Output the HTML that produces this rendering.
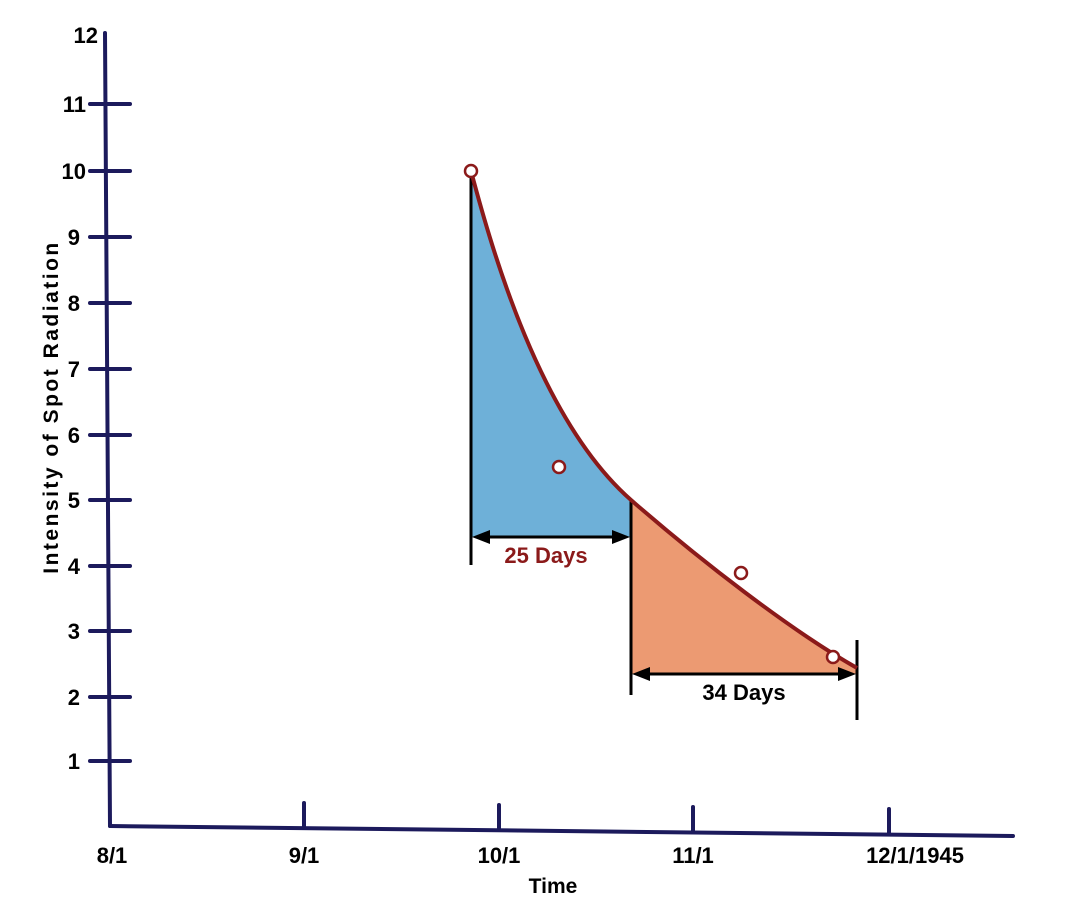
<!DOCTYPE html>
<html><head><meta charset="utf-8"><style>
html,body{margin:0;padding:0;background:#fff;}
svg{display:block;}
text{font-family:"Liberation Sans",sans-serif;font-weight:bold;}
</style></head><body>
<svg width="1072" height="920" viewBox="0 0 1072 920">
<path d="M471,171 C492,250 540,420 631,500 L631,537 L471,537 Z" fill="#6eb0d8"/>
<path d="M631,500 C700,560 790,630 857,668 L857,674 L631,674 Z" fill="#ec9a72"/>
<g stroke="#1c1a5c" stroke-width="4" fill="none" stroke-linecap="round">
<line x1="105" y1="33" x2="110" y2="826"/>
<line x1="110" y1="826" x2="1013" y2="836"/>
<line x1="90" y1="104" x2="130" y2="104"/>
<line x1="90" y1="171" x2="130" y2="171"/>
<line x1="90" y1="237" x2="130" y2="237"/>
<line x1="90" y1="303" x2="130" y2="303"/>
<line x1="90" y1="369" x2="130" y2="369"/>
<line x1="90" y1="435" x2="130" y2="435"/>
<line x1="90" y1="500" x2="130" y2="500"/>
<line x1="90" y1="566" x2="130" y2="566"/>
<line x1="90" y1="631" x2="130" y2="631"/>
<line x1="90" y1="697" x2="130" y2="697"/>
<line x1="90" y1="761" x2="130" y2="761"/>
<line x1="304" y1="803" x2="304" y2="828"/>
<line x1="499" y1="805" x2="499" y2="830"/>
<line x1="693" y1="807" x2="693" y2="832"/>
<line x1="889" y1="809" x2="889" y2="834"/>
</g>
<g font-size="22" fill="#000" text-anchor="end">
<text x="98" y="43">12</text>
<text x="86" y="112">11</text>
<text x="86" y="179">10</text>
<text x="80" y="245">9</text>
<text x="80" y="311">8</text>
<text x="80" y="377">7</text>
<text x="80" y="443">6</text>
<text x="80" y="508">5</text>
<text x="80" y="574">4</text>
<text x="80" y="639">3</text>
<text x="80" y="705">2</text>
<text x="80" y="769">1</text>
</g>
<g font-size="22" fill="#000" text-anchor="middle">
<text x="112" y="863">8/1</text>
<text x="304" y="863">9/1</text>
<text x="499" y="863">10/1</text>
<text x="693" y="863">11/1</text>
<text x="915" y="863">12/1/1945</text>
<text x="553" y="893" font-size="21">Time</text>
<text transform="translate(58,407) rotate(-90)" font-size="21" letter-spacing="2.5">Intensity of Spot Radiation</text>
</g>
<g stroke="#000" stroke-width="3" fill="none">
<line x1="471" y1="171" x2="471" y2="565"/>
<line x1="631" y1="500" x2="631" y2="695"/>
<line x1="857" y1="640" x2="857" y2="720"/>
<line x1="478" y1="537" x2="624" y2="537"/>
<line x1="638" y1="674" x2="850" y2="674"/>
</g>
<g fill="#000">
<polygon points="472,537 490,530 490,544"/>
<polygon points="630,537 612,530 612,544"/>
<polygon points="632,674 650,667 650,681"/>
<polygon points="856,674 838,667 838,681"/>
</g>
<text x="546" y="563" font-size="22" fill="#8b1a1a" text-anchor="middle">25 Days</text>
<text x="744" y="700" font-size="22" fill="#000" text-anchor="middle">34 Days</text>
<path d="M471,171 C492,250 540,420 631,500 C700,560 790,630 857,668" stroke="#8b1a1a" stroke-width="4" fill="none"/>
<g stroke="#8b1a1a" stroke-width="2.5" fill="#fff">
<circle cx="471" cy="171" r="6"/>
<circle cx="559" cy="467" r="6"/>
<circle cx="741" cy="573" r="6"/>
<circle cx="833" cy="657" r="6"/>
</g>
</svg>
</body></html>
